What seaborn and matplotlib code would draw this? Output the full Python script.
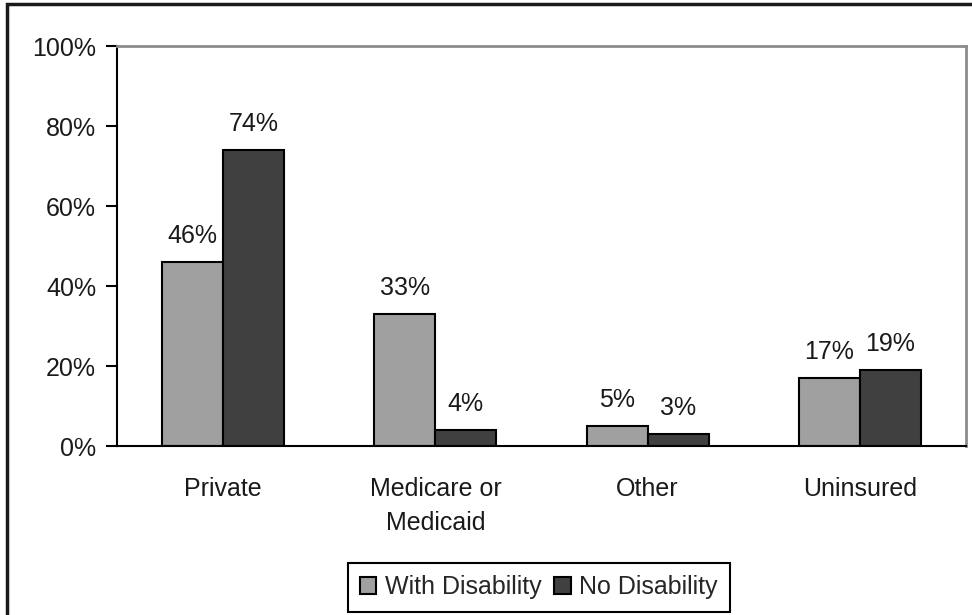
import matplotlib
matplotlib.use("Agg")
import matplotlib.pyplot as plt
import pandas as pd
import seaborn as sns
from matplotlib.patches import Rectangle
from matplotlib.ticker import FixedLocator


CATEGORIES = ["Private", "Medicare or\nMedicaid", "Other", "Uninsured"]
GROUPS = ["With Disability", "No Disability"]
WITH_DISABILITY = [46, 33, 5, 17]
NO_DISABILITY = [74, 4, 3, 19]
COLORS = ["#a0a0a0", "#404040"]
Y_TICKS = [0, 20, 40, 60, 80, 100]

FONT_SIZE = 18


def build_frame() -> pd.DataFrame:
    rows = []
    for cat, a, b in zip(CATEGORIES, WITH_DISABILITY, NO_DISABILITY):
        rows.append({"category": cat, "group": GROUPS[0], "value": a})
        rows.append({"category": cat, "group": GROUPS[1], "value": b})
    return pd.DataFrame(rows)


def main() -> None:
    sns.set_style("white")
    plt.rcParams["font.family"] = ["Liberation Sans", "DejaVu Sans"]

    df = build_frame()

    fig = plt.figure(figsize=(9.72, 6.15), dpi=100)
    ax = fig.add_axes([117 / 972, 1 - 446 / 615, (966 - 117) / 972, 400 / 615])

    sns.barplot(
        data=df, x="category", y="value", hue="group",
        order=CATEGORIES, hue_order=GROUPS, palette=COLORS,
        width=0.575, edgecolor="black", linewidth=1.5, ax=ax,
    )

    for container in ax.containers:
        ax.bar_label(
            container, labels=[f"{v:.0f}%" for v in container.datavalues],
            padding=10, fontsize=FONT_SIZE, color="#1a1a1a",
        )

    ax.set_ylim(0, 100)
    ax.set_xlim(-0.5, len(CATEGORIES) - 0.5)
    ax.set_yticks(Y_TICKS)
    ax.set_yticklabels([f"{t}%" for t in Y_TICKS], fontsize=FONT_SIZE, color="#1a1a1a")
    ax.set_xticklabels(CATEGORIES, fontsize=FONT_SIZE, color="#1a1a1a", linespacing=1.55)
    ax.tick_params(axis="x", which="major", length=0, pad=22)
    ax.xaxis.set_minor_locator(FixedLocator([i - 0.5 for i in range(len(CATEGORIES) + 1)]))
    ax.tick_params(axis="x", which="minor", length=8, width=1.5, color="black", direction="out")
    ax.tick_params(axis="y", length=8, width=1.5, color="black", direction="out", pad=7, left=True)
    ax.set_xlabel("")
    ax.set_ylabel("")

    for side in ["left", "bottom"]:
        ax.spines[side].set_color("black")
        ax.spines[side].set_linewidth(1.5)
    for side in ["top", "right"]:
        ax.spines[side].set_color("#8c8c8c")
        ax.spines[side].set_linewidth(2)

    handles, labels = ax.get_legend_handles_labels()
    ax.legend_.remove()
    leg = fig.legend(
        handles, labels, loc="center", bbox_to_anchor=(539 / 972, 1 - 587 / 615),
        ncol=2, fontsize=FONT_SIZE, frameon=True, fancybox=False, framealpha=1,
        handlelength=0.65, handleheight=0.65, handletextpad=0.35, columnspacing=0.5,
        borderpad=0.5, borderaxespad=0,
    )
    leg.get_frame().set_edgecolor("black")
    leg.get_frame().set_linewidth(1.5)

    # outer chart border (right and bottom edges fall outside the image)
    fig.patches.append(Rectangle(
        (7 / 972, -0.05), 1.1, 1 - 4 / 615 + 0.05, transform=fig.transFigure,
        fill=False, edgecolor="#1a1a1a", linewidth=2.5, clip_on=False,
    ))

    fig.savefig("out.png", dpi=100)
    plt.close(fig)


if __name__ == "__main__":
    main()
